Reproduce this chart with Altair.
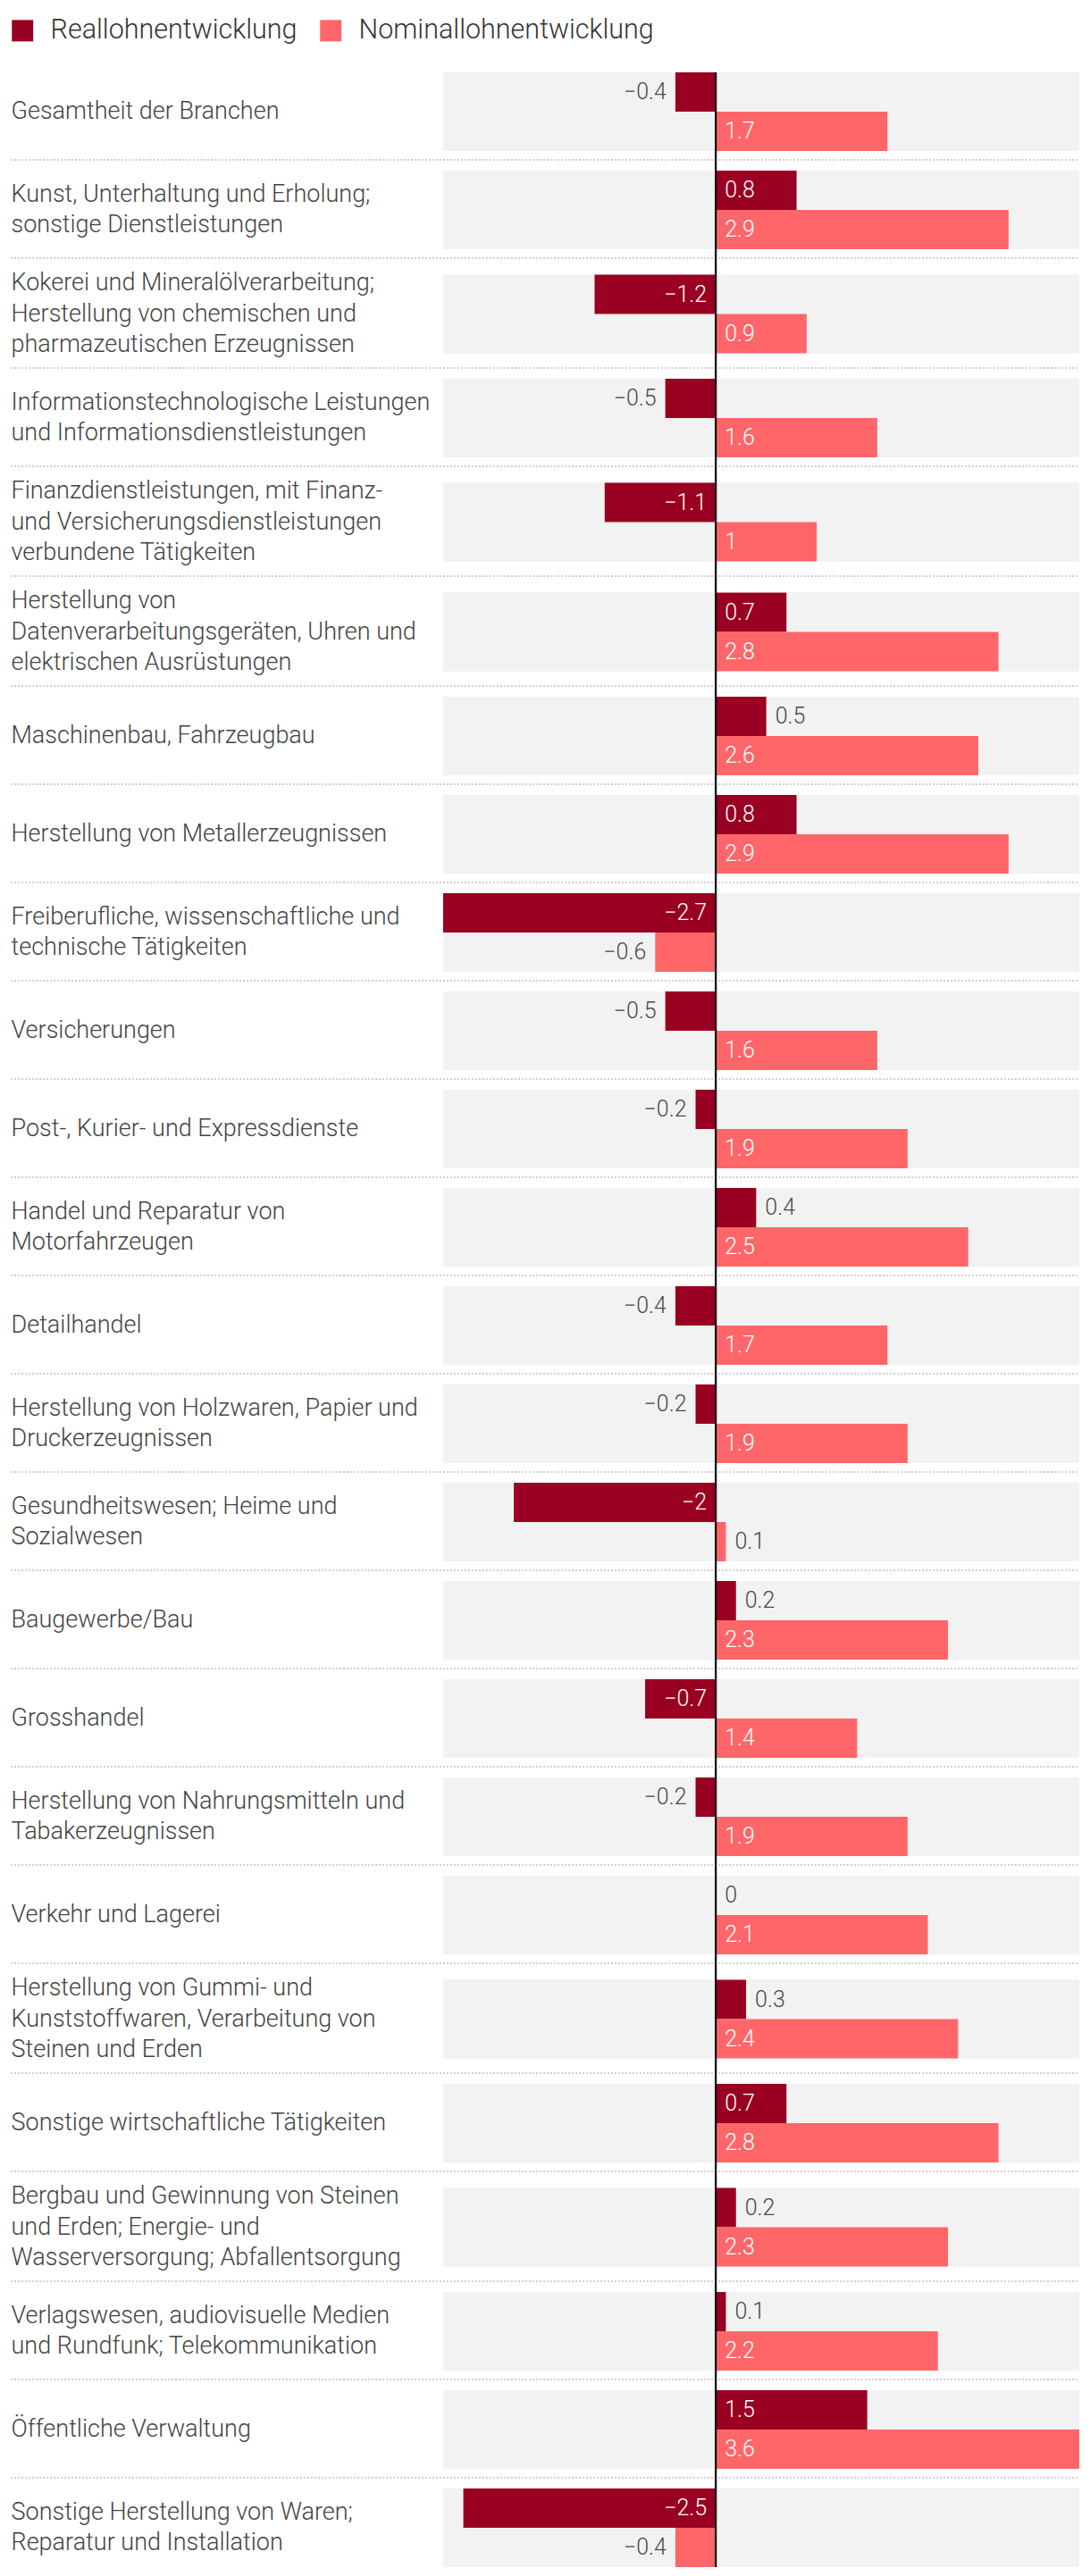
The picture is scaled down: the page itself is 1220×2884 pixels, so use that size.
import altair as alt
import pandas as pd

# ---------------- data ----------------
label_lines = [
    ["Gesamtheit der Branchen"],
    ["Kunst, Unterhaltung und Erholung;", "sonstige Dienstleistungen"],
    ["Kokerei und Mineralölverarbeitung;", "Herstellung von chemischen und", "pharmazeutischen Erzeugnissen"],
    ["Informationstechnologische Leistungen", "und Informationsdienstleistungen"],
    ["Finanzdienstleistungen, mit Finanz-", "und Versicherungsdienstleistungen", "verbundene Tätigkeiten"],
    ["Herstellung von", "Datenverarbeitungsgeräten, Uhren und", "elektrischen Ausrüstungen"],
    ["Maschinenbau, Fahrzeugbau"],
    ["Herstellung von Metallerzeugnissen"],
    ["Freiberufliche, wissenschaftliche und", "technische Tätigkeiten"],
    ["Versicherungen"],
    ["Post-, Kurier- und Expressdienste"],
    ["Handel und Reparatur von", "Motorfahrzeugen"],
    ["Detailhandel"],
    ["Herstellung von Holzwaren, Papier und", "Druckerzeugnissen"],
    ["Gesundheitswesen; Heime und", "Sozialwesen"],
    ["Baugewerbe/Bau"],
    ["Grosshandel"],
    ["Herstellung von Nahrungsmitteln und", "Tabakerzeugnissen"],
    ["Verkehr und Lagerei"],
    ["Herstellung von Gummi- und", "Kunststoffwaren, Verarbeitung von", "Steinen und Erden"],
    ["Sonstige wirtschaftliche Tätigkeiten"],
    ["Bergbau und Gewinnung von Steinen", "und Erden; Energie- und", "Wasserversorgung; Abfallentsorgung"],
    ["Verlagswesen, audiovisuelle Medien", "und Rundfunk; Telekommunikation"],
    ["Öffentliche Verwaltung"],
    ["Sonstige Herstellung von Waren;", "Reparatur und Installation"],
]
real = [-0.4, 0.8, -1.2, -0.5, -1.1, 0.7, 0.5, 0.8, -2.7, -0.5, -0.2, 0.4, -0.4,
        -0.2, -2.0, 0.2, -0.7, -0.2, 0.0, 0.3, 0.7, 0.2, 0.1, 1.5, -2.5]
nominal = [1.7, 2.9, 0.9, 1.6, 1.0, 2.8, 2.6, 2.9, -0.6, 1.6, 1.9, 2.5, 1.7,
           1.9, 0.1, 2.3, 1.4, 1.9, 2.1, 2.4, 2.8, 2.3, 2.2, 3.6, -0.4]
series_names = ["Reallohnentwicklung", "Nominallohnentwicklung"]
series_colors = ["#990021", "#ff6669"]

# ---------------- style ----------------
FONT = "Roboto"
W = 712
BAND = 88
LABEL_PAD = 484
LINE_H = 34.5
xmin = min(real + nominal)
xmax = max(real + nominal)
INSIDE = "abs(datum.value) >= 0.7"

n = len(label_lines)
rows = []
for i, lines in enumerate(label_lines):
    pad = 17.5 if len(lines) >= 3 else 11
    H = BAND + 2 * pad
    cat = "|".join(lines)
    df = pd.DataFrame({
        "cat": [cat, cat],
        "series": series_names,
        "value": [real[i], nominal[i]],
    })
    base = alt.Chart(df)
    y = alt.Y(
        "cat:N",
        scale=alt.Scale(paddingInner=0, paddingOuter=pad / BAND),
        axis=alt.Axis(
            title=None,
            labelExpr="split(datum.label, '|')",
            labelAlign="left",
            labelBaseline="middle",
            labelPadding=LABEL_PAD,
            labelOffset=-(len(lines) - 1) * LINE_H / 2,
            ticks=False,
            tickSize=0,
            domain=False,
            grid=False,
            labelFont=FONT,
            labelFontSize=27,
            labelFontWeight=300,
            labelColor="#444444",
            labelLineHeight=LINE_H,
            labelLimit=1000,
        ),
    )
    yoff = alt.YOffset(
        "series:N",
        sort=series_names,
        scale=alt.Scale(domain=series_names, paddingInner=0, paddingOuter=0),
    )
    xscale = alt.Scale(domain=[xmin, xmax], nice=False, zero=False)
    color = alt.Color(
        "series:N",
        scale=alt.Scale(domain=series_names, range=series_colors),
        legend=alt.Legend(
            title=None,
            orient="none",
            legendX=-486,
            legendY=-51,
            direction="horizontal",
            symbolType="square",
            symbolSize=576,
            symbolStrokeWidth=0,
            symbolOpacity=1,
            labelFont=FONT,
            labelFontSize=30.5,
            labelFontWeight=300,
            labelColor="#333333",
            labelOffset=16,
            columnPadding=22,
            labelLimit=1000,
            padding=0,
        ),
    )

    bg = base.mark_rect(color="#f2f2f2").encode(
        x=alt.X(datum=xmin, scale=xscale, axis=None),
        x2=alt.X2(datum=xmax),
        y=y,
    )
    bars = base.mark_bar().encode(
        x=alt.X("value:Q", scale=xscale, axis=None),
        x2=alt.X2(datum=0),
        y=y,
        yOffset=yoff,
        color=color,
    )
    txt_color = alt.condition(INSIDE, alt.value("white"), alt.value("#4a4a4a"))
    txt_common = dict(font=FONT, fontSize=25, fontWeight=300, baseline="middle")
    neg_txt = base.transform_filter("datum.value < 0").transform_calculate(
        tx=f"{INSIDE} ? 0 : datum.value"
    ).mark_text(align="right", dx=-10, **txt_common).encode(
        x=alt.X("tx:Q", scale=xscale, axis=None),
        y=y,
        yOffset=yoff,
        text=alt.Text("value:Q", format=".1~f"),
        color=txt_color,
    )
    pos_txt = base.transform_filter("datum.value >= 0").transform_calculate(
        tx=f"{INSIDE} ? 0 : datum.value"
    ).mark_text(align="left", dx=10, **txt_common).encode(
        x=alt.X("tx:Q", scale=xscale, axis=None),
        y=y,
        yOffset=yoff,
        text=alt.Text("value:Q", format=".1~f"),
        color=txt_color,
    )
    top = pad if i == 0 else 0
    bottom = H - pad if i == n - 1 else H
    zero = base.mark_rule(color="#111111", strokeWidth=2).encode(
        x=alt.X(datum=0, scale=xscale, axis=None),
        y=alt.value(top),
        y2=alt.value(bottom),
    )
    layers = [bg, bars]
    if i < n - 1:
        sep = base.mark_rule(color="#d0d0d0", strokeWidth=2, strokeDash=[2, 2]).encode(
            x=alt.value(-LABEL_PAD),
            x2=alt.value(W),
            y=alt.value(H - 1),
        )
        layers.append(sep)
    layers += [zero, neg_txt, pos_txt]
    row = alt.layer(*layers).properties(width=W, height=H)
    rows.append(row)

chart = (
    alt.vconcat(*rows, spacing=0, bounds="flush")
    .resolve_scale(x="independent", y="independent", yOffset="independent")
    .properties(padding={"left": 10, "top": 19, "right": 8, "bottom": 0})
    .configure_view(stroke=None)
)

chart.save("out.html", embed_options={"renderer": "svg", "actions": False})
